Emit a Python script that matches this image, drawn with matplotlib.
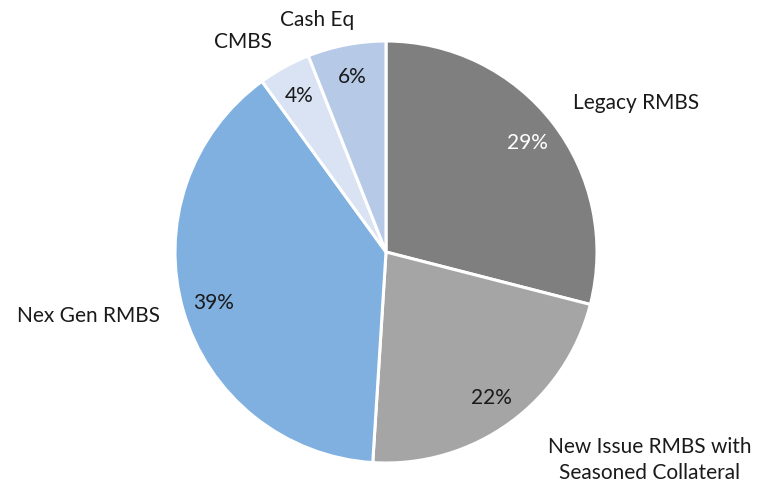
import matplotlib
matplotlib.use("Agg")
import matplotlib.pyplot as plt

# data
categories = ["Legacy RMBS", "New Issue RMBS with\nSeasoned Collateral",
              "Nex Gen RMBS", "CMBS", "Cash Eq"]
shares = [29, 22, 39, 4, 6]
colors = ["#7f7f7f", "#a5a5a5", "#7fb0e0", "#dae3f3", "#b6cae8"]
pct_colors = ["white", "#1a1a1a", "#1a1a1a", "#1a1a1a", "#1a1a1a"]

# where the category labels sit (in units of pie radius)
label_pos = [(1.185, 0.711), (1.251, -0.981), (-1.412, -0.299),
             (-0.678, 1.0), (-0.327, 1.104)]

plt.rcParams['font.family'] = ['Lato', 'DejaVu Sans']

fig = plt.figure(figsize=(7.59, 4.89), dpi=100)
ax = fig.add_axes([175 / 759, 25 / 489, 422 / 759, 422 / 489])

wedges, texts, autotexts = ax.pie(
    shares, colors=colors, startangle=90, counterclock=False,
    autopct='%d%%', pctdistance=0.85, radius=1.0,
    wedgeprops=dict(edgecolor='white', linewidth=2.2),
    textprops=dict(fontsize=15))

for t, c in zip(autotexts, pct_colors):
    t.set_color(c)

for name, (x, y) in zip(categories, label_pos):
    ax.text(x, y, name, ha='center', va='center', fontsize=15,
            color='#1a1a1a', linespacing=1.32)

ax.set_xlim(-1, 1)
ax.set_ylim(-1, 1)
ax.set_aspect('equal')
ax.axis('off')

fig.savefig("out.png", dpi=100)
